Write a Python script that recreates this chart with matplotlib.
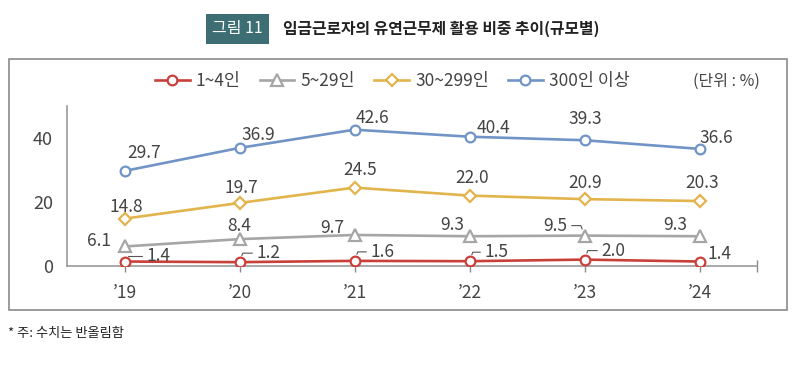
import matplotlib
matplotlib.use("Agg")
import matplotlib.pyplot as plt
from matplotlib.patches import Rectangle

plt.rcParams['font.family'] = ['Noto Sans CJK KR', 'DejaVu Sans']

# ---- data ----
years = ["\u201919", "\u201920", "\u201921", "\u201922", "\u201923", "\u201924"]
series_names = ["1~4인", "5~29인", "30~299인", "300인 이상"]
s_1_4 = [1.4, 1.2, 1.6, 1.5, 2.0, 1.4]
s_5_29 = [6.1, 8.4, 9.7, 9.3, 9.5, 9.3]
s_30_299 = [14.8, 19.7, 24.5, 22.0, 20.9, 20.3]
s_300 = [29.7, 36.9, 42.6, 40.4, 39.3, 36.6]
y_ticks = [0, 20, 40]

title = "임금근로자의 유연근무제 활용 비중 추이(규모별)"
fig_label = "그림 11"
unit = "(단위 : %)"
note = "* 주: 수치는 반올림함"

# ---- styles / layout ----
colors = ["#C9403A", "#A6A6A6", "#E2B44C", "#7094C6"]
markers = ["o", "^", "D", "o"]
msizes = [7, 8, 6.5, 7]
# label offsets in pixels (dx, dy) and leader flags
offsets = [
    [(34, 6), (29, 9), (28, 9), (27, 9), (29, 9), (20, 8)],
    [(-25, 5), (0, 13), (-22, 7), (-17, 11), (-29, 10), (-24, 11)],
    [(2, 12), (2, 15), (6, 18), (3, 18), (1, 16), (3, 18)],
    [(20, 18), (19, 13), (18, 12), (24, 9), (1, 21), (17, 11)],
]
leaders = [
    [True, True, True, True, True, False],
    [False, False, False, False, True, False],
    [False] * 6,
    [False] * 6,
]
txt_color = "#444444"

W, H = 800, 365
fig = plt.figure(figsize=(W / 100, H / 100), dpi=100)

# outer box
fig.patches.append(Rectangle((9 / W, 1 - 310 / H), 778 / W, 251 / H,
                             transform=fig.transFigure, fill=False,
                             edgecolor="#8a8a8a", linewidth=1.2))

ax = fig.add_axes([67 / W, 1 - 266 / H, 690 / W, 160 / H])
x = list(range(len(years)))
all_series = [s_1_4, s_5_29, s_30_299, s_300]
lines = []
for i, (vals, name) in enumerate(zip(all_series, series_names)):
    ln, = ax.plot(x, vals, color=colors[i], lw=1.9, marker=markers[i],
                  markersize=msizes[i], markerfacecolor="white",
                  markeredgecolor=colors[i], markeredgewidth=1.6,
                  label=name, zorder=3 + i)
    lines.append(ln)

for i, vals in enumerate(all_series):
    for j, v in enumerate(vals):
        dx, dy = offsets[i][j]
        kw = {}
        if leaders[i][j]:
            if dx > 0:
                kw['arrowprops'] = dict(arrowstyle='-', color='#555555', lw=0.8,
                                        relpos=(0, 0.5), shrinkA=1, shrinkB=5,
                                        connectionstyle="angle,angleA=0,angleB=70,rad=0")
            else:
                kw['arrowprops'] = dict(arrowstyle='-', color='#555555', lw=0.8,
                                        relpos=(1, 0.5), shrinkA=1, shrinkB=5,
                                        connectionstyle="angle,angleA=0,angleB=110,rad=0")
        ax.annotate(f"{v:.1f}", (j, v), xytext=(dx, dy), textcoords="offset pixels",
                    ha="center", va="center", fontsize=12.5, color=txt_color,
                    fontweight="light", zorder=10, **kw)

ax.set_xlim(-0.5, 5.5)
ax.set_ylim(0, 50)
ax.set_xticks(x)
ax.set_xticklabels(years, fontsize=12.5, color=txt_color, fontweight="light")
ax.set_xticks([5.5], minor=True)
ax.set_yticks(y_ticks)
ax.set_yticklabels([str(t) for t in y_ticks], fontsize=13, color=txt_color,
                   fontweight="light")
ax.tick_params(axis='x', which='major', length=4, width=1, color="#8c8c8c",
               direction='out', pad=9)
ax.tick_params(axis='x', which='minor', length=9, width=1, color="#8c8c8c",
               direction='inout')
ax.tick_params(axis='y', length=0, pad=10)
for s in ["top", "right"]:
    ax.spines[s].set_visible(False)
for s in ["left", "bottom"]:
    ax.spines[s].set_color("#9a9a9a")
    ax.spines[s].set_linewidth(1.2)
ax.patch.set_alpha(0)

leg = ax.legend(handles=lines, ncol=4, loc="center left",
                bbox_to_anchor=(155 / W, 1 - 81 / H), bbox_transform=fig.transFigure,
                frameon=False, fontsize=12.5, handlelength=2.0, handletextpad=0.35,
                columnspacing=1.1, borderpad=0, borderaxespad=0)
for t in leg.get_texts():
    t.set_color(txt_color)
    t.set_fontweight("light")

fig.text(693 / W, 1 - 81 / H, unit, fontsize=11.5, color=txt_color, ha="left",
         va="center", fontweight="light")

# title
fig.text(237.5 / W, 1 - 29 / H, fig_label, fontsize=11.5, color="white", ha="center",
         va="center", bbox=dict(boxstyle="square,pad=0.4", facecolor="#3C6E74",
                                edgecolor="none"))
fig.text(283 / W, 1 - 29 / H, title, fontsize=11.4, color="#222222", ha="left",
         va="center", fontweight="bold")

fig.text(8 / W, 1 - 334 / H, note, fontsize=9.5, color="#222222", ha="left", va="center")

fig.savefig("out.png", dpi=100)
